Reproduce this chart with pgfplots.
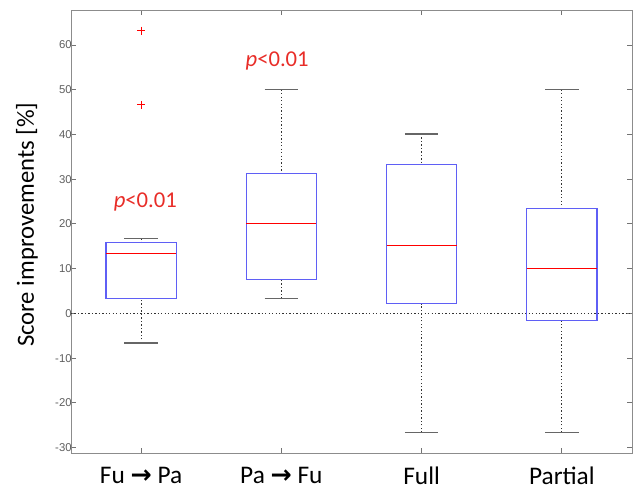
\documentclass[border=0pt]{standalone}
\usepackage{fontspec}
\setmainfont{Carlito}
\newfontfamily\tickfont{Liberation Sans}
\newfontfamily\arrowfont{DejaVu Sans}
\usepackage{pgfplots}
\pgfplotsset{compat=1.18}
\usepgfplotslibrary{statistics}
\definecolor{mred}{RGB}{232,45,40}
\definecolor{mblue}{RGB}{95,95,245}
\definecolor{tickgray}{RGB}{95,95,95}
\newcommand{\arr}{{\arrowfont\bfseries\fontsize{19}{21}\selectfont →}}
\pgfkeys{/pgfplots/boxplot/mystyle/.style={
  box extend=0.5,
  whisker extend=0.24,
  every box/.style={draw=mblue, line width=0.9pt},
  every median/.style={draw=red, line width=0.8pt},
  draw/lower whisker/.code={
    \draw[black!80, dash pattern=on 1pt off 1.6pt, line width=0.6pt]
      (boxplot cs:\pgfplotsboxplotvalue{lower whisker}) -- (boxplot cs:\pgfplotsboxplotvalue{lower quartile});
    \draw[black!60, line width=1pt]
      (boxplot whisker cs:\pgfplotsboxplotvalue{lower whisker},0) -- (boxplot whisker cs:\pgfplotsboxplotvalue{lower whisker},1);
  },
  draw/upper whisker/.code={
    \draw[black!80, dash pattern=on 1pt off 1.6pt, line width=0.6pt]
      (boxplot cs:\pgfplotsboxplotvalue{upper whisker}) -- (boxplot cs:\pgfplotsboxplotvalue{upper quartile});
    \draw[black!60, line width=1pt]
      (boxplot whisker cs:\pgfplotsboxplotvalue{upper whisker},0) -- (boxplot whisker cs:\pgfplotsboxplotvalue{upper whisker},1);
  },
}}
\begin{document}
\begin{tikzpicture}
\useasboundingbox (-53.25pt,-27.75pt) rectangle (429pt,339.75pt);
\begin{axis}[
  at={(0,0)}, anchor=south west,
  scale only axis, width=420.75pt, height=332.25pt,
  xmin=0.5, xmax=4.5, ymin=-31.2, ymax=67.8,
  xtick={1,2,3,4},
  xticklabels={Fu \arr\ Pa, Pa \arr\ Fu, Full, Partial},
  ytick={-30,-20,-10,0,10,20,30,40,50,60},
  yticklabels={-30,-20,-10,0,10,20,30,40,50,60},
  tick align=inside, major tick length=3.75pt,
  axis line style={black!45, line width=0.7pt},
  tick style={black!55, line width=0.6pt},
  yticklabel style={font=\tickfont\fontsize{8.5}{9}\selectfont, text=tickgray, xshift=4pt},
  xticklabel style={font=\fontsize{19}{21}\selectfont, yshift=-7pt},
  ylabel={Score improvements [\%]},
  ylabel style={font=\fontsize{18.5}{20}\selectfont, at={(axis description cs:-0.0784,0.515)}, anchor=center},
  boxplot/draw direction=y,
  clip=false,
]
\addplot[black!80, dash pattern=on 1pt off 1.6pt, line width=0.6pt, forget plot] coordinates {(0.5,0) (4.5,0)};

\addplot[mblue, mark=+, mark size=3pt, mark options={draw=red, solid, line width=0.7pt},
  boxplot prepared={mystyle, draw position=1, lower whisker=-6.6, lower quartile=3.3, median=13.4, upper quartile=15.9, upper whisker=16.8}]
  table[row sep=\\, y index=0] {data\\ 63.2\\ 46.6\\};
\addplot[mblue,
  boxplot prepared={mystyle, draw position=2, lower whisker=3.3, lower quartile=7.5, median=20.1, upper quartile=31.2, upper whisker=50.0}]
  coordinates {};
\addplot[mblue,
  boxplot prepared={mystyle, draw position=3, lower whisker=-26.6, lower quartile=2.2, median=15.1, upper quartile=33.3, upper whisker=40.1}]
  coordinates {};
\addplot[mblue,
  boxplot prepared={mystyle, draw position=4, lower whisker=-26.6, lower quartile=-1.6, median=10.0, upper quartile=23.4, upper whisker=50.0}]
  coordinates {};

\node[text=mred, font=\fontsize{17}{19}\selectfont] at (axis cs:1.03,24.9) {\textit{p}<0.01};
\node[text=mred, font=\fontsize{17}{19}\selectfont] at (axis cs:1.97,56.4) {\textit{p}<0.01};
\end{axis}
\end{tikzpicture}
\end{document}
